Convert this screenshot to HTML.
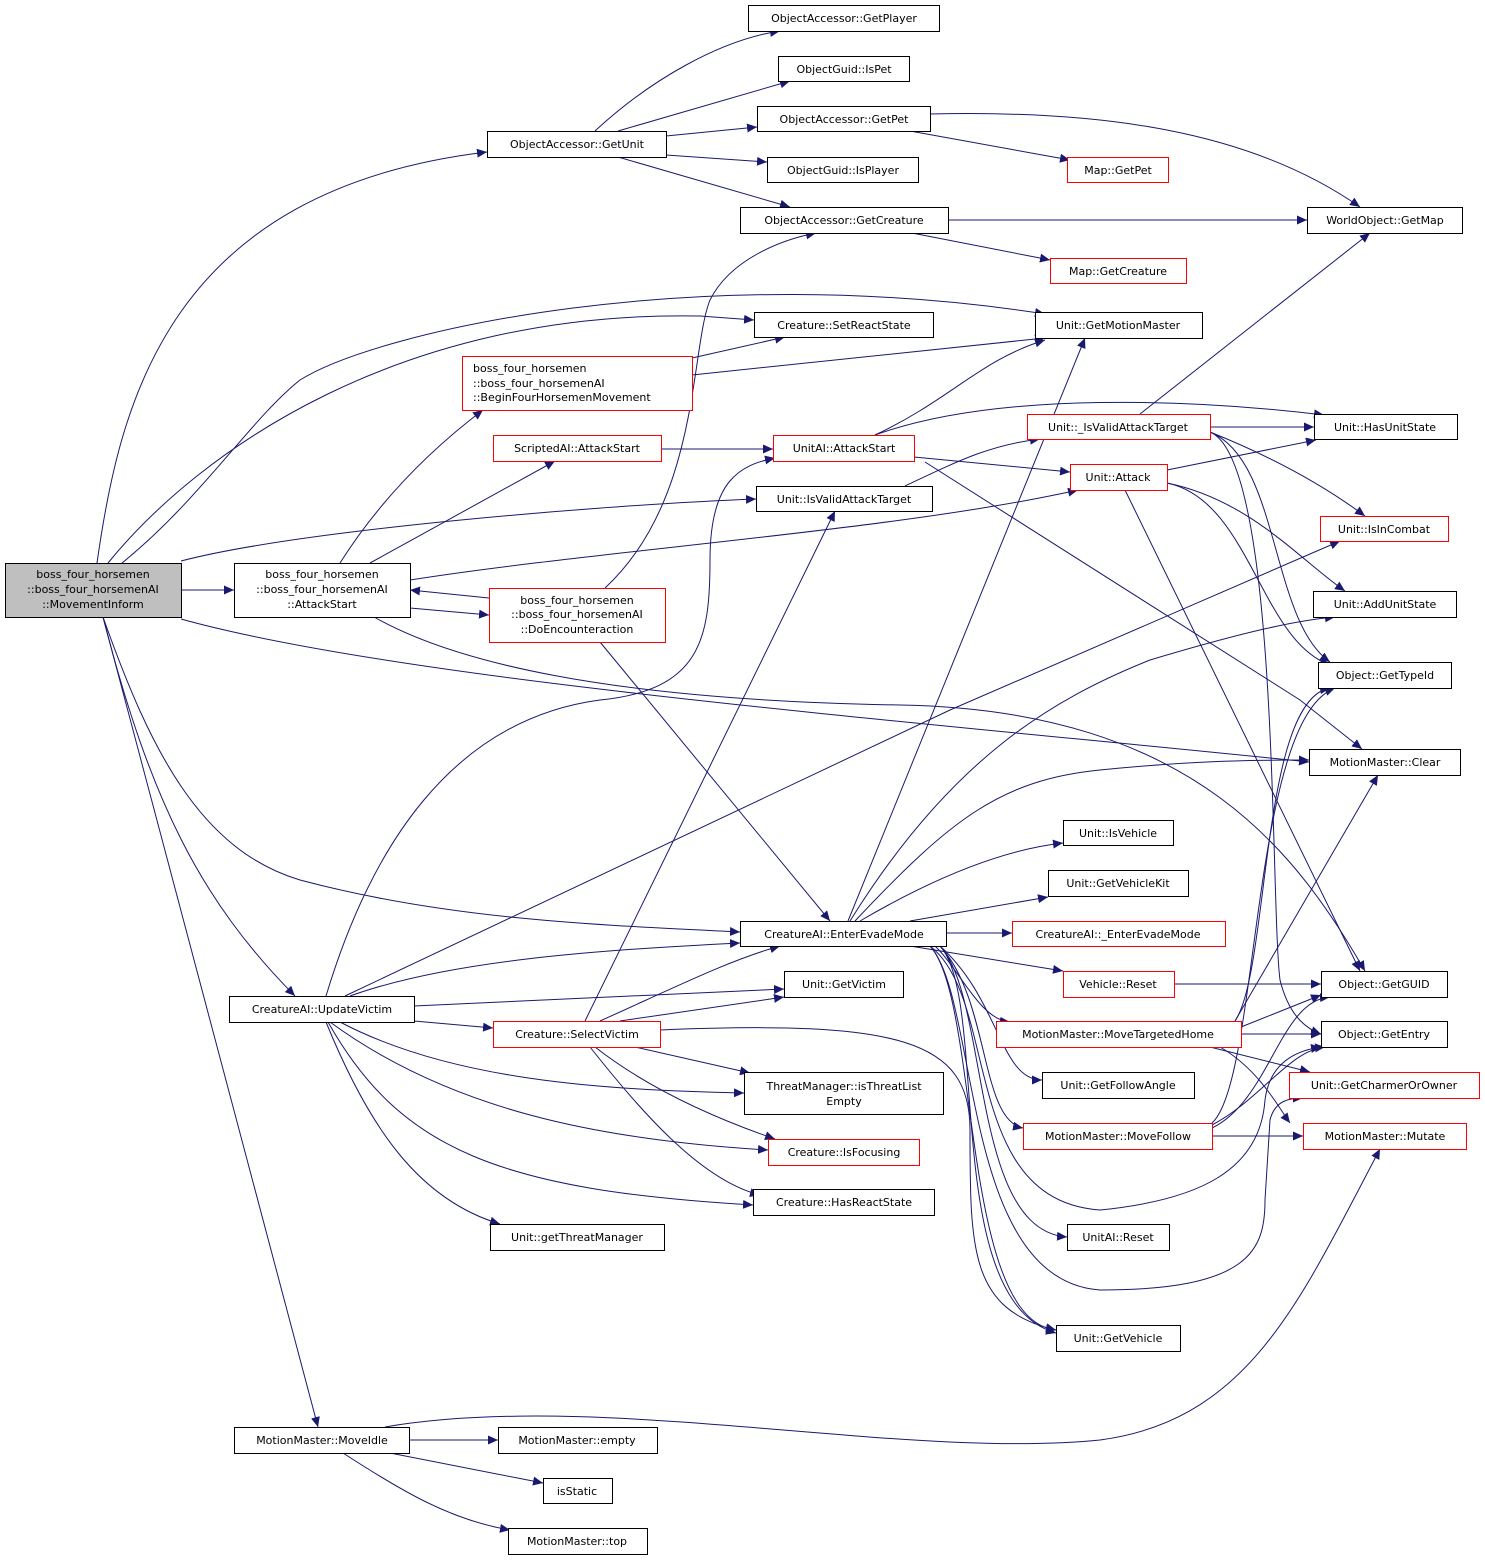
<!DOCTYPE html>
<html><head><meta charset="utf-8"><style>
html,body{margin:0;padding:0;background:#fff;}
svg{display:block;}
text{font-family:"DejaVu Sans","Liberation Sans",sans-serif;font-size:11px;fill:#000;text-anchor:middle;}
.e{fill:none;stroke:#191970;stroke-width:1;marker-end:url(#a);}
.n{fill:#fff;stroke:#000;stroke-width:1;}
.r{fill:#fff;stroke:#ff0000;stroke-width:1;}
</style></head><body>
<svg width="1485" height="1561" viewBox="0 0 1485 1561" xmlns="http://www.w3.org/2000/svg">
<defs><marker id="a" markerUnits="userSpaceOnUse" markerWidth="11" markerHeight="9" refX="10" refY="4.5" orient="auto"><path d="M0,0 L10,4.5 L0,9 z" fill="#191970"/></marker></defs>

<!-- edges -->
<path class="e" d="M97 563 C120 400,170 190,487 152"/>
<path class="e" d="M122 563 C200 500,250 420,300 380 C380 330,700 260,1045 314"/>
<path class="e" d="M108 563 C200 450,400 310,700 316 L754 320"/>
<path class="e" d="M181 561 C300 530,600 505,756 499"/>
<path class="e" d="M181 590 L234 590"/>
<path class="e" d="M181 619 C400 680,900 720,1309 762"/>
<path class="e" d="M103 617 C150 750,200 850,300 880 C450 920,600 925,740 932"/>
<path class="e" d="M103 617 C150 800,200 900,295 996"/>
<path class="e" d="M103 617 L318 1427"/>

<path class="e" d="M340 563 C380 500,430 450,483 410"/>
<path class="e" d="M370 563 L555 461"/>
<path class="e" d="M410 580 C600 550,900 530,1078 490"/>
<path class="e" d="M410 608 L489 615"/>
<path class="e" d="M374 617 C450 660,600 700,900 705 C1200 710,1300 860,1365 971"/>
<path class="e" d="M489 598 L410 590"/>

<path class="e" d="M605 588 C700 500,690 350,710 300 C730 260,780 240,816 233"/>
<path class="e" d="M600 642 L830 921"/>

<path class="e" d="M692 358 L785 337"/>
<path class="e" d="M692 375 L1045 338"/>
<path class="e" d="M661 449 L773 449"/>

<path class="e" d="M875 435 C950 400,980 360,1045 340"/>
<path class="e" d="M875 435 C1000 390,1200 400,1324 415"/>
<path class="e" d="M914 457 L1070 472"/>
<path class="e" d="M925 462 L1300 700 L1362 749"/>

<path class="e" d="M1140 414 L1370 233"/>
<path class="e" d="M1210 427 L1314 427"/>
<path class="e" d="M1210 432 C1280 460,1330 490,1365 516"/>
<path class="e" d="M1210 432 C1280 460,1270 620,1330 662"/>
<path class="e" d="M1210 432 C1280 460,1270 900,1280 980 C1290 1020,1310 1030,1321 1034"/>
<path class="e" d="M905 486 C960 460,990 445,1040 439"/>

<path class="e" d="M1167 470 L1316 440"/>
<path class="e" d="M1167 483 C1250 500,1300 560,1345 591"/>
<path class="e" d="M1167 483 C1250 500,1260 640,1330 665"/>
<path class="e" d="M1125 490 L1360 971"/>

<path class="e" d="M595 131 C650 80,720 40,780 31"/>
<path class="e" d="M618 131 L790 81"/>
<path class="e" d="M666 136 L757 127"/>
<path class="e" d="M666 155 L767 162"/>
<path class="e" d="M618 157 L790 207"/>
<path class="e" d="M930 114 C1100 110,1250 130,1360 207"/>
<path class="e" d="M910 131 L1070 160"/>
<path class="e" d="M948 220 L1307 220"/>
<path class="e" d="M912 233 L1050 260"/>

<path class="e" d="M848 921 L1085 338"/>
<path class="e" d="M850 921 C950 760,1050 700,1150 660 C1250 630,1300 620,1335 617"/>
<path class="e" d="M855 921 C950 820,1000 780,1100 770 C1200 760,1260 760,1309 760"/>
<path class="e" d="M860 921 C930 880,1000 850,1063 843"/>
<path class="e" d="M910 921 L1048 897"/>
<path class="e" d="M946 933 L1012 933"/>
<path class="e" d="M910 946 L1063 971"/>
<path class="e" d="M935 946 C960 970,980 1020,1010 1022"/>
<path class="e" d="M940 946 C1000 1000,1000 1080,1042 1080"/>
<path class="e" d="M940 946 C990 1000,980 1120,1023 1128"/>
<path class="e" d="M940 946 C990 1000,970 1230,1067 1237"/>
<path class="e" d="M940 946 C990 1000,940 1300,1056 1333"/>
<path class="e" d="M930 946 C980 1000,960 1320,1056 1330"/>
<path class="e" d="M930 946 C1000 1000,960 1200,1100 1210 C1200 1200,1260 1170,1265 1100 C1270 1060,1300 1050,1321 1047"/>
<path class="e" d="M930 946 C980 1000,960 1280,1100 1290 C1250 1290,1265 1250,1265 1200 L1270 1120 C1275 1100,1290 1098,1303 1098"/>

<path class="e" d="M326 996 C370 850,450 720,600 700 C700 690,710 640,710 560 C710 480,740 465,775 458"/>
<path class="e" d="M345 996 L950 710 L1340 541"/>
<path class="e" d="M350 996 C450 960,600 950,740 943"/>
<path class="e" d="M414 1006 L784 989"/>
<path class="e" d="M414 1021 L493 1028"/>
<path class="e" d="M340 1022 C450 1080,600 1090,744 1093"/>
<path class="e" d="M330 1022 C450 1110,600 1140,768 1150"/>
<path class="e" d="M328 1022 C400 1150,500 1190,753 1205"/>
<path class="e" d="M326 1022 C370 1130,420 1200,500 1224"/>

<path class="e" d="M585 1021 L835 511"/>
<path class="e" d="M600 1021 C680 985,730 960,780 946"/>
<path class="e" d="M620 1021 L784 997"/>
<path class="e" d="M635 1047 L750 1073"/>
<path class="e" d="M595 1047 C650 1090,720 1120,775 1139"/>
<path class="e" d="M590 1047 C640 1110,700 1180,760 1195"/>
<path class="e" d="M660 1030 C900 1020,970 1040,970 1130 C970 1250,970 1310,1056 1330"/>

<path class="e" d="M1174 984 L1321 984"/>
<path class="e" d="M1241 1027 L1321 995"/>
<path class="e" d="M1241 1034 L1321 1034"/>
<path class="e" d="M1210 1047 L1310 1072"/>
<path class="e" d="M1220 1047 C1260 1070,1280 1110,1290 1123"/>
<path class="e" d="M1235 1021 C1270 970,1260 700,1330 688"/>
<path class="e" d="M1235 1021 L1378 775"/>
<path class="e" d="M1212 1136 L1303 1136"/>
<path class="e" d="M1212 1128 C1270 1100,1280 1000,1330 997"/>
<path class="e" d="M1212 1125 C1260 1100,1290 1050,1325 1047"/>
<path class="e" d="M1212 1123 C1260 1080,1250 720,1335 688"/>

<path class="e" d="M385 1427 C600 1390,900 1460,1100 1440 C1250 1420,1300 1300,1380 1149"/>
<path class="e" d="M409 1440 L498 1440"/>
<path class="e" d="M390 1453 L543 1483"/>
<path class="e" d="M343 1453 C400 1490,450 1520,510 1530"/>

<!-- nodes -->
<rect x="5.5" y="563.5" width="176" height="54" fill="#bfbfbf" stroke="#000"/>
<text x="93" y="578">boss_four_horsemen</text><text x="93" y="593">::boss_four_horsemenAI</text><text x="93" y="608">::MovementInform</text>

<rect class="n" x="748.5" y="5.5" width="191" height="26"/><text x="844" y="22">ObjectAccessor::GetPlayer</text>
<rect class="n" x="778.5" y="56.5" width="131" height="25"/><text x="844" y="73">ObjectGuid::IsPet</text>
<rect class="n" x="757.5" y="106.5" width="173" height="25"/><text x="844" y="123">ObjectAccessor::GetPet</text>
<rect class="n" x="487.5" y="131.5" width="179" height="26"/><text x="577" y="148">ObjectAccessor::GetUnit</text>
<rect class="n" x="767.5" y="157.5" width="151" height="25"/><text x="843" y="174">ObjectGuid::IsPlayer</text>
<rect class="r" x="1067.5" y="157.5" width="101" height="25"/><text x="1118" y="174">Map::GetPet</text>
<rect class="n" x="740.5" y="207.5" width="208" height="26"/><text x="844" y="224">ObjectAccessor::GetCreature</text>
<rect class="n" x="1307.5" y="207.5" width="155" height="26"/><text x="1385" y="224">WorldObject::GetMap</text>
<rect class="r" x="1050.5" y="258.5" width="136" height="25"/><text x="1118" y="275">Map::GetCreature</text>
<rect class="n" x="754.5" y="312.5" width="179" height="25"/><text x="844" y="329">Creature::SetReactState</text>
<rect class="n" x="1035.5" y="312.5" width="167" height="26"/><text x="1118" y="329">Unit::GetMotionMaster</text>
<rect class="r" x="462.5" y="356.5" width="230" height="54"/>
<text x="577" y="372" style="text-anchor:start" transform="translate(-104,0)">boss_four_horsemen</text><text x="473" y="387" style="text-anchor:start">::boss_four_horsemenAI</text><text x="473" y="401" style="text-anchor:start">::BeginFourHorsemenMovement</text>
<rect class="r" x="1027.5" y="414.5" width="183" height="25"/><text x="1118" y="431">Unit::_IsValidAttackTarget</text>
<rect class="n" x="1314.5" y="414.5" width="143" height="25"/><text x="1385" y="431">Unit::HasUnitState</text>
<rect class="r" x="493.5" y="435.5" width="168" height="26"/><text x="577" y="452">ScriptedAI::AttackStart</text>
<rect class="r" x="773.5" y="435.5" width="141" height="26"/><text x="844" y="452">UnitAI::AttackStart</text>
<rect class="r" x="1070.5" y="464.5" width="97" height="26"/><text x="1118" y="481">Unit::Attack</text>
<rect class="n" x="756.5" y="486.5" width="176" height="25"/><text x="844" y="503">Unit::IsValidAttackTarget</text>
<rect class="r" x="1320.5" y="516.5" width="128" height="25"/><text x="1384" y="533">Unit::IsInCombat</text>
<rect class="n" x="234.5" y="563.5" width="176" height="54"/>
<text x="322" y="578">boss_four_horsemen</text><text x="322" y="593">::boss_four_horsemenAI</text><text x="322" y="608">::AttackStart</text>
<rect class="r" x="489.5" y="588.5" width="176" height="54"/>
<text x="577" y="604">boss_four_horsemen</text><text x="577" y="618">::boss_four_horsemenAI</text><text x="577" y="633">::DoEncounteraction</text>
<rect class="n" x="1313.5" y="591.5" width="143" height="26"/><text x="1385" y="608">Unit::AddUnitState</text>
<rect class="n" x="1318.5" y="662.5" width="133" height="26"/><text x="1385" y="679">Object::GetTypeId</text>
<rect class="n" x="1309.5" y="749.5" width="151" height="26"/><text x="1385" y="766">MotionMaster::Clear</text>
<rect class="n" x="1063.5" y="820.5" width="110" height="25"/><text x="1118" y="837">Unit::IsVehicle</text>
<rect class="n" x="1048.5" y="870.5" width="140" height="26"/><text x="1118" y="887">Unit::GetVehicleKit</text>
<rect class="n" x="740.5" y="921.5" width="206" height="25"/><text x="844" y="938">CreatureAI::EnterEvadeMode</text>
<rect class="r" x="1012.5" y="921.5" width="213" height="25"/><text x="1118" y="938">CreatureAI::_EnterEvadeMode</text>
<rect class="n" x="784.5" y="971.5" width="119" height="26"/><text x="844" y="988">Unit::GetVictim</text>
<rect class="r" x="1063.5" y="971.5" width="111" height="26"/><text x="1118" y="988">Vehicle::Reset</text>
<rect class="n" x="1321.5" y="971.5" width="126" height="26"/><text x="1384" y="988">Object::GetGUID</text>
<rect class="n" x="229.5" y="996.5" width="185" height="26"/><text x="322" y="1013">CreatureAI::UpdateVictim</text>
<rect class="r" x="493.5" y="1021.5" width="167" height="26"/><text x="577" y="1038">Creature::SelectVictim</text>
<rect class="r" x="996.5" y="1021.5" width="245" height="26"/><text x="1118" y="1038">MotionMaster::MoveTargetedHome</text>
<rect class="n" x="1321.5" y="1021.5" width="126" height="26"/><text x="1384" y="1038">Object::GetEntry</text>
<rect class="n" x="744.5" y="1072.5" width="199" height="42"/><text x="844" y="1090">ThreatManager::isThreatList</text><text x="844" y="1105">Empty</text>
<rect class="n" x="1042.5" y="1072.5" width="152" height="26"/><text x="1118" y="1089">Unit::GetFollowAngle</text>
<rect class="r" x="1289.5" y="1072.5" width="190" height="26"/><text x="1384" y="1089">Unit::GetCharmerOrOwner</text>
<rect class="r" x="1023.5" y="1123.5" width="189" height="26"/><text x="1118" y="1140">MotionMaster::MoveFollow</text>
<rect class="r" x="1303.5" y="1123.5" width="163" height="26"/><text x="1385" y="1140">MotionMaster::Mutate</text>
<rect class="r" x="768.5" y="1139.5" width="151" height="26"/><text x="844" y="1156">Creature::IsFocusing</text>
<rect class="n" x="753.5" y="1189.5" width="181" height="26"/><text x="844" y="1206">Creature::HasReactState</text>
<rect class="n" x="490.5" y="1224.5" width="174" height="26"/><text x="577" y="1241">Unit::getThreatManager</text>
<rect class="n" x="1067.5" y="1224.5" width="102" height="26"/><text x="1118" y="1241">UnitAI::Reset</text>
<rect class="n" x="1056.5" y="1325.5" width="124" height="26"/><text x="1118" y="1342">Unit::GetVehicle</text>
<rect class="n" x="234.5" y="1427.5" width="175" height="26"/><text x="322" y="1444">MotionMaster::MoveIdle</text>
<rect class="n" x="498.5" y="1427.5" width="159" height="26"/><text x="577" y="1444">MotionMaster::empty</text>
<rect class="n" x="543.5" y="1478.5" width="69" height="25"/><text x="577" y="1495">isStatic</text>
<rect class="n" x="508.5" y="1528.5" width="139" height="26"/><text x="577" y="1545">MotionMaster::top</text>
</svg>
</body></html>
